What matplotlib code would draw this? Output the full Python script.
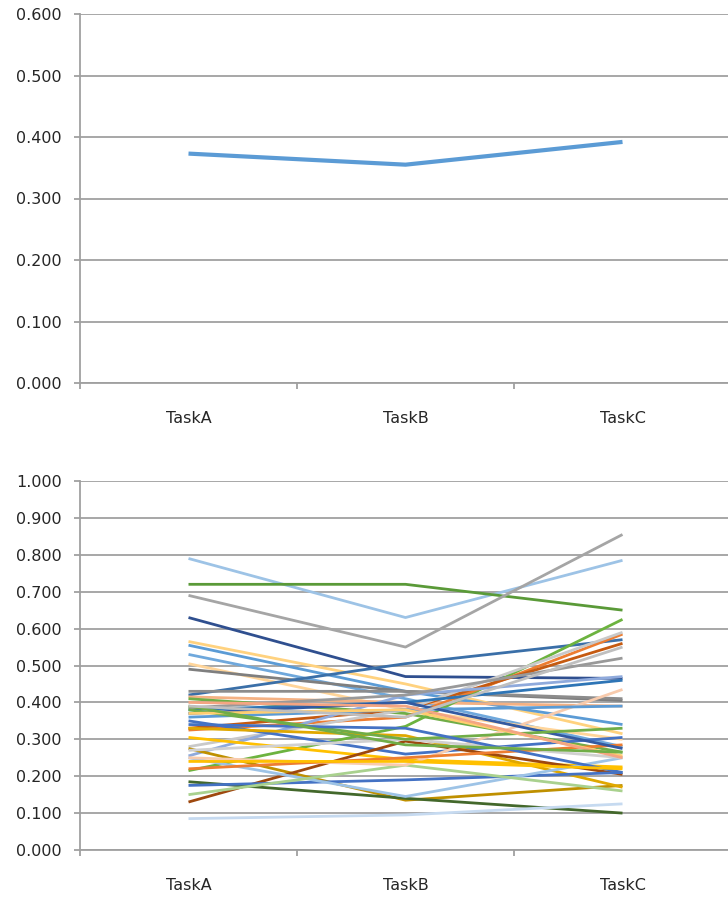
import matplotlib
matplotlib.use("Agg")
import matplotlib.pyplot as plt
import numpy as np

tasks = ["TaskA", "TaskB", "TaskC"]

# Top chart: average series
avg_values = [0.373, 0.355, 0.392]
avg_color = "#5B9BD5"

# Bottom chart: individual series (TaskA, TaskB, TaskC)
series_values = [
    [0.790, 0.630, 0.785],
    [0.720, 0.720, 0.650],
    [0.690, 0.550, 0.855],
    [0.630, 0.470, 0.465],
    [0.565, 0.450, 0.315],
    [0.555, 0.430, 0.340],
    [0.530, 0.410, 0.280],
    [0.505, 0.380, 0.300],
    [0.490, 0.430, 0.405],
    [0.420, 0.505, 0.570],
    [0.430, 0.430, 0.410],
    [0.415, 0.400, 0.390],
    [0.410, 0.370, 0.265],
    [0.215, 0.335, 0.625],
    [0.325, 0.360, 0.585],
    [0.330, 0.380, 0.560],
    [0.280, 0.380, 0.590],
    [0.255, 0.420, 0.470],
    [0.350, 0.260, 0.305],
    [0.305, 0.245, 0.225],
    [0.275, 0.135, 0.175],
    [0.330, 0.310, 0.170],
    [0.130, 0.295, 0.205],
    [0.185, 0.140, 0.100],
    [0.085, 0.095, 0.125],
    [0.175, 0.190, 0.210],
    [0.250, 0.145, 0.250],
    [0.150, 0.230, 0.160],
    [0.250, 0.230, 0.435],
    [0.270, 0.300, 0.250],
    [0.380, 0.400, 0.460],
    [0.220, 0.250, 0.285],
    [0.385, 0.420, 0.520],
    [0.360, 0.380, 0.390],
    [0.370, 0.400, 0.275],
    [0.380, 0.300, 0.330],
    [0.370, 0.380, 0.255],
    [0.400, 0.390, 0.250],
    [0.340, 0.330, 0.210],
    [0.390, 0.285, 0.265],
    [0.390, 0.360, 0.550],
    [0.240, 0.240, 0.220],
]
series_colors = [
    "#9DC3E6", "#5A9A38", "#A5A5A5", "#2F4F8F", "#FFD27F", "#5B9BD5",
    "#6FA8DC", "#FFD59A", "#7F7F7F", "#3A6FA8", "#8C8C8C", "#F4B183",
    "#70AD47", "#6CB33F", "#ED7D31", "#C55A11", "#C9C9C9", "#8FAADC",
    "#4472C4", "#FFC000", "#BF9000", "#E0A800", "#9E480E", "#43682B",
    "#C6DAF0", "#4472C4", "#9DC3E6", "#A9D18E", "#F8CBAD", "#D0D0D0",
    "#2E75B6", "#ED7D31", "#999999", "#5B9BD5", "#335AA1", "#70AD47",
    "#FFCD70", "#F4A582", "#4472C4", "#70AD47", "#BFBFBF", "#FFC000",
]

plt.rcParams["font.family"] = ["DejaVu Sans"]

W, H = 728, 898
fig = plt.figure(figsize=(W / 100, H / 100), dpi=100)

grid_color = "#A0A0A0"
text_color = "#262626"


def style_axes(ax, ymax, step):
    ax.set_xlim(-0.5, 2.5)
    ax.set_ylim(0, ymax)
    ticks = np.round(np.arange(0, ymax + step / 2, step), 3)
    ax.set_yticks(ticks)
    ax.set_yticklabels([f"{t:.3f}" for t in ticks])
    ax.yaxis.grid(True, color=grid_color, linewidth=1.3)
    ax.set_axisbelow(True)
    for s in ["top", "right"]:
        ax.spines[s].set_visible(False)
    for s in ["left", "bottom"]:
        ax.spines[s].set_color(grid_color)
        ax.spines[s].set_linewidth(1.3)
    ax.set_xticks([0, 1, 2])
    ax.set_xticklabels(tasks)
    ax.set_xticks([-0.5, 0.5, 1.5], minor=True)
    ax.tick_params(axis="x", which="major", length=0, pad=20,
                   labelsize=11.5, labelcolor=text_color)
    ax.tick_params(axis="x", which="minor", length=4.3, width=1.3,
                   color=grid_color, direction="out")
    ax.tick_params(axis="y", length=4.3, width=1.3, color=grid_color,
                   pad=9, labelsize=11.5, labelcolor=text_color)


ax1 = fig.add_axes([80 / W, (H - 383) / H, 651 / W, 369 / H])
ax1.plot(range(len(tasks)), avg_values, color=avg_color, linewidth=3.0,
         solid_capstyle="butt")
style_axes(ax1, 0.6, 0.1)

ax2 = fig.add_axes([80 / W, (H - 850) / H, 651 / W, 369 / H])
for vals, col in zip(series_values, series_colors):
    ax2.plot(range(len(tasks)), vals, color=col, linewidth=2.0,
             solid_capstyle="butt")
style_axes(ax2, 1.0, 0.1)

fig.savefig("out.png", dpi=100)
